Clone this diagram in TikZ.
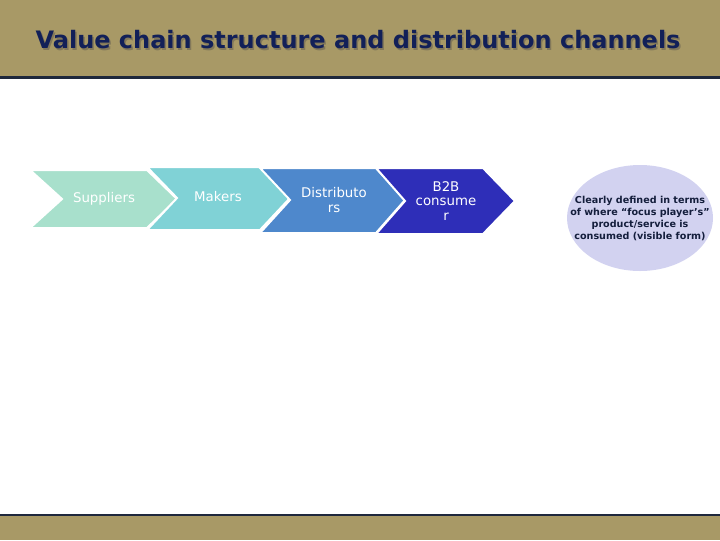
\documentclass[tikz,border=0pt]{standalone}
\usepackage{fontspec}
\setmainfont{DejaVu Sans}
\usetikzlibrary{shapes.geometric}
\begin{document}
\begin{tikzpicture}[x=0.75pt,y=-0.75pt,
  chev/.style={draw=white,line width=1.5pt},
  lbl/.style={text=white,font=\fontsize{10}{11}\selectfont,align=center,inner sep=0}]
\useasboundingbox (0,0) rectangle (720,540);
\fill[fill={rgb,255:red,168;green,153;blue,102}] (0,0) rectangle (720,76);
\fill[fill={rgb,255:red,30;green,40;blue,60}] (0,76) rectangle (720,79);
\fill[fill={rgb,255:red,168;green,153;blue,102}] (0,516) rectangle (720,540);
\fill[fill={rgb,255:red,30;green,40;blue,60}] (0,514) rectangle (720,516);
\node[text={rgb,255:red,130;green,120;blue,90},font=\bfseries\fontsize{18}{20}\selectfont] at (359.5,41.5) {Value chain structure and distribution channels};
\node (title) [text={rgb,255:red,18;green,32;blue,88},font=\bfseries\fontsize{18}{20}\selectfont] at (358,40) {Value chain structure and distribution channels};
\filldraw[chev,fill={rgb,255:red,168;green,224;blue,204}] (30,170) -- (147,170) -- (177,199) -- (147,228) -- (30,228) -- (62,199) -- cycle;
\filldraw[chev,fill={rgb,255:red,128;green,210;blue,214}] (147,167) -- (260,167) -- (290,198) -- (260,230) -- (147,230) -- (177,198) -- cycle;
\filldraw[chev,fill={rgb,255:red,78;green,136;blue,204}] (260,168) -- (376,168) -- (405,200) -- (376,233) -- (260,233) -- (290,200) -- cycle;
\filldraw[chev,fill={rgb,255:red,46;green,46;blue,184}] (376,168) -- (483,168) -- (515,201) -- (483,234) -- (376,234) -- (405,201) -- cycle;
\node (sup) [lbl] at (104,199) {Suppliers};
\node (mak) [lbl] at (218,197) {Makers};
\node (dis) [lbl] at (334,200) {Distributo\\rs};
\node (b2b) [lbl] at (446,201) {B2B\\consume\\r};
\node (ell) [ellipse,fill={rgb,255:red,210;green,210;blue,240},minimum width=109.5pt,minimum height=79.5pt,inner sep=0] at (640,218) {};
\node [align=center,font=\bfseries\fontsize{7.2}{9}\selectfont,text={rgb,255:red,20;green,30;blue,60}] at (ell) {Clearly defined in terms\\of where ``focus player's''\\product/service is\\consumed (visible form)};
\end{tikzpicture}
\end{document}
